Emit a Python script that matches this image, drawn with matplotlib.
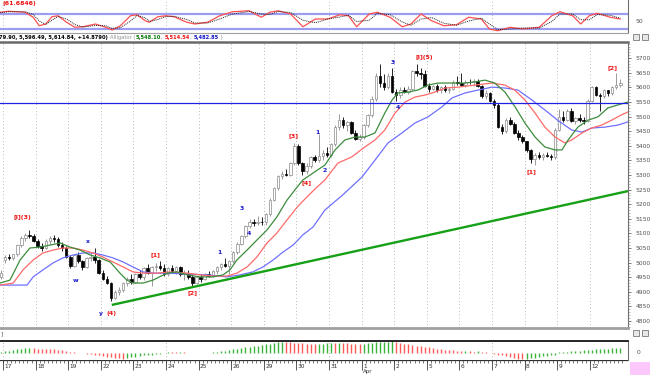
import numpy as np
import matplotlib
matplotlib.use("Agg")
import matplotlib.pyplot as plt
from matplotlib.patches import Rectangle
from matplotlib.lines import Line2D

# ---------------- data ----------------
dates = ["17", "18", "19", "22", "23", "24", "25", "26", "29", "30", "31",
         "1", "2", "5", "6", "7", "8", "9", "12"]
bars_per_day = 8

opens = [4950,
 5010,5018,5015,5028,5060,5085,5095,5092,
 5075,5058,5050,5075,5085,5082,5060,5050,
 5020,4988,5025,5005,4985,5015,5020,5008,
 4965,4945,4930,4880,4900,4905,4930,4945,
 4935,4960,4950,4980,4965,4985,4990,4980,
 4960,4980,4970,4985,4960,4965,4950,4930,
 4950,4945,4960,4955,4970,4985,4995,4990,
 5005,5035,5065,5090,5125,5140,5135,5140,
 5138,5165,5215,5255,5295,5305,5300,5340,
 5400,5340,5315,5330,5360,5350,5365,5375,
 5370,5405,5465,5490,5470,5480,5445,5425,
 5430,5470,5505,5560,5640,5615,5600,5640,
 5585,5575,5590,5585,5595,5655,5650,5645,
 5605,5595,5605,5590,5600,5590,5595,5620,
 5615,5610,5620,5618,5622,5605,5570,5580,
 5555,5540,5465,5450,5490,5475,5445,5430,
 5415,5385,5355,5368,5360,5370,5365,5362,
 5455,5500,5490,5520,5485,5495,5490,5485,
 5555,5600,5575,5570,5590,5580,5600,5610]
highs = [4975,
 5025,5030,5030,5065,5090,5100,5112,5098,
 5080,5068,5080,5090,5095,5088,5070,5058,
 5025,5030,5035,5010,5020,5035,5050,5012,
 4975,4955,4935,4905,4915,4935,4950,4960,
 4965,4975,4985,4995,4990,5000,5005,4995,
 4985,4992,4990,4990,4975,4975,4960,4955,
 4960,4965,4970,4975,4990,5000,5015,5010,
 5040,5070,5095,5130,5150,5148,5160,5155,
 5170,5220,5260,5300,5315,5320,5345,5410,
 5405,5345,5340,5365,5370,5440,5385,5395,
 5410,5470,5510,5500,5485,5485,5455,5440,
 5475,5510,5570,5650,5680,5645,5650,5665,
 5595,5600,5600,5605,5660,5680,5665,5660,
 5615,5610,5612,5605,5608,5600,5625,5640,
 5650,5625,5630,5628,5630,5610,5590,5585,
 5560,5548,5475,5495,5500,5480,5455,5438,
 5418,5390,5375,5380,5375,5378,5372,5460,
 5525,5520,5525,5528,5500,5510,5500,5560,
 5605,5605,5580,5595,5592,5605,5650,5630]
lows = [4945,
 5000,5008,5010,5022,5055,5075,5085,5070,
 5050,5040,5045,5065,5072,5055,5040,5015,
 4980,4985,5000,4975,4980,5005,5000,4960,
 4940,4925,4868,4875,4890,4900,4920,4925,
 4930,4945,4940,4960,4920,4970,4975,4955,
 4955,4965,4960,4955,4940,4945,4920,4925,
 4935,4940,4950,4950,4960,4975,4985,4960,
 5000,5030,5060,5085,5120,5125,5128,5130,
 5130,5160,5210,5250,5285,5295,5295,5335,
 5335,5300,5305,5325,5345,5345,5350,5360,
 5360,5400,5455,5460,5450,5440,5420,5415,
 5425,5465,5500,5555,5600,5590,5595,5580,
 5555,5565,5580,5578,5590,5640,5630,5600,
 5585,5590,5585,5580,5585,5580,5590,5610,
 5605,5600,5612,5605,5600,5565,5560,5550,
 5530,5460,5440,5445,5470,5440,5420,5410,
 5380,5340,5335,5355,5352,5360,5350,5355,
 5450,5480,5485,5480,5475,5480,5475,5480,
 5550,5570,5520,5565,5572,5575,5595,5600]
closes = [4965,
 5018,5015,5028,5060,5085,5095,5092,5075,
 5058,5050,5075,5085,5082,5060,5050,5020,
 4988,5025,5005,4985,5015,5020,5008,4965,
 4945,4930,4880,4900,4905,4930,4945,4935,
 4960,4950,4980,4965,4985,4990,4980,4960,
 4980,4970,4985,4960,4965,4950,4930,4950,
 4945,4960,4955,4970,4985,4995,4990,5005,
 5035,5065,5090,5125,5140,5135,5140,5138,
 5165,5215,5255,5295,5305,5300,5340,5400,
 5340,5315,5330,5360,5350,5365,5375,5370,
 5405,5465,5490,5470,5480,5445,5425,5430,
 5470,5505,5560,5640,5615,5600,5640,5585,
 5575,5590,5585,5595,5655,5650,5645,5605,
 5595,5605,5590,5600,5590,5595,5620,5615,
 5610,5620,5618,5622,5605,5570,5580,5555,
 5540,5465,5450,5490,5475,5445,5430,5415,
 5385,5355,5368,5360,5370,5365,5362,5455,
 5500,5490,5520,5485,5495,5490,5485,5555,
 5600,5575,5570,5590,5580,5600,5610,5615]

# Alligator lines: bar position, price
lips_x = [-1.2,1.2,3.7,6.1,8.6,11,13.5,16,18.4,20.9,23.3,25.8,28.2,29.9,31.4,33.9,36.3,39.8,42.2,44.7,
          47.8,51,53.5,55.2,56.9,59.4,61.8,64.3,66.7,69.2,71.7,73.1,75.6,78.5,81,83.4,85.9,88.3,90.8,93.2,
          95,96.4,98.9,101.3,103.8,106.3,109.7,112.9,115.3,117.8,120.2,122.7,125.2,127.6,130.1,132.5,135,
          136.7,138.2,140.6,143.1,145.5,148,150.4,152.9]
lips_y = [4930,4940,5009,5050,5053,5060,5067,5053,5043,5026,5016,5002,4964,4940,4930,4930,4940,4964,4968,4958,
          4951,4951,4958,4975,5009,5043,5077,5112,5156,5214,5259,5283,5307,5334,5386,5420,5430,5430,5444,5512,
          5557,5581,5584,5591,5608,5615,5615,5615,5619,5625,5615,5584,5533,5478,5430,5396,5386,5386,5420,5464,
          5488,5499,5530,5540,5550]
teeth_x = [-1.2,2,4.4,6.9,9.3,11.8,14.2,16.7,19.1,21.6,24,26.5,29,31.4,33.9,37.3,40.5,44.7,47.8,51,
           54.5,56.9,59.4,61.8,64.3,66.7,69.2,71.7,74.1,76.6,78.5,81.7,85.1,88.3,90.8,93.2,95.7,98.2,100.6,103.1,
           105.5,108,111.2,115.3,119.5,122.7,125.1,127.6,130.1,132.5,135,137.4,139.1,141.6,144,146.4,148.9,151.3,152.9]
teeth_y = [4923,4930,4975,5009,5033,5043,5050,5050,5043,5033,5019,5002,4985,4968,4964,4964,4968,4964,4958,4954,
           4954,4964,4985,5019,5067,5101,5146,5190,5225,5259,5283,5341,5362,5396,5420,5454,5512,5550,5567,5574,
           5584,5598,5601,5608,5615,5608,5591,5557,5512,5464,5430,5410,5420,5444,5461,5471,5488,5506,5516]
jaw_x = [-1.2,5.4,6.9,9.3,11.8,14.2,16.7,19.1,21.6,24,26.5,29,31.4,33.9,36.3,39.7,44.7,49.6,54.5,57.7,
         60.8,63.3,65.8,68.2,70.7,73.1,75.6,78.5,82.9,87.6,90.8,94,97.4,100.6,103.8,107.2,109.7,112.9,116.1,119.5,
         122.7,125.9,129.3,132.5,135.6,139.1,141.6,144,147.2,150.4,152.9]
jaw_y = [4923,4923,4951,4975,4999,5016,5026,5033,5033,5026,5016,5002,4985,4968,4964,4964,4961,4958,4951,4958,
         4968,4985,5009,5036,5060,5095,5122,5180,5232,5293,5351,5410,5444,5478,5499,5533,5564,5581,5591,5601,
         5598,5591,5557,5523,5488,5454,5447,5461,5464,5471,5482]

resistance = 5545
trend_x = [26.2, 152.9]
trend_y = [4855, 5245]

wave_red = ["[i](3)", "[1]", "[2]", "(4)", "[3]", "[4]", "[i](5)", "[1]", "[2]"]
wave_red_x = [4.2, 37.0, 46.1, 26.2, 70.7, 74.1, 102.8, 129.3, 149.0]
wave_red_y = [5153, 5026, 4896, 4827, 5434, 5273, 5704, 5310, 5667]
wave_blue = ["x", "w", "y", "1", "3", "4", "1", "2", "3", "4"]
wave_blue_x = [20.4, 17.2, 23.5, 52.5, 58.2, 59.9, 76.6, 78.5, 95.2, 96.4]
wave_blue_y = [5071, 4940, 4827, 5036, 5184, 5101, 5447, 5317, 5687, 5530]

# stochastic oscillator (top panel)
stoch_x = [-1.2,0.8,4.9,6.9,8.4,10,11.5,13,15.1,17.1,19.1,22.2,24.7,26.3,28.3,30.8,32.4,34.4,35.4,37.5,
           39.5,41.5,44.6,46.6,49.7,52.7,55.8,59.9,62.9,65,67,70.1,73.1,76.2,79.2,82.2,84.3,86.3,89.4,91.4,
           94.5,97.5,99.6,102.1,104.7,107.7,110.8,113.8,116.9,118.9,120.9,124,127.1,131.1,134.2,136.2,139.3,
           141.3,143.4,145.4,148.5,151]
stoch_k = [87,91,87,67,33,40,69,73,47,27,29,40,27,16,33,73,77,53,47,69,
           73,69,47,40,47,73,89,93,67,87,93,80,29,60,60,77,73,29,80,87,
           67,29,40,80,53,33,37,67,60,20,13,27,20,27,73,89,73,40,73,83,67,60]
stoch_d = [85,89,89,78,52,38,55,70,60,38,28,34,33,22,25,52,74,65,50,58,
           70,71,58,44,44,60,80,90,80,78,90,86,55,45,60,68,75,50,55,83,
           77,48,35,60,66,43,35,52,63,40,17,20,24,24,50,80,80,57,57,78,75,63]

# histogram oscillator (bottom panel), one value per bar
osc = [4,
 5,7,9,11,13,14,15,14,
 13,13,12,12,11,10,8,6,
 3,2,1,-1,-2,-4,-6,-8,
 -10,-12,-14,-16,-17,-18,-16,-14,
 -12,-10,-8,-6,-5,-3,-2,1,
 3,3,2,3,2,1,0.5,0.5,
 0,0,0.5,2,4,5,7,9,
 11,13,15,17,19,21,23,25,
 27,29,31,33,34,34,33,32,
 31,30,29,28,27,28,29,30,
 31,31,32,32,30,29,28,27,
 28,30,32,33,34,34.5,35,35.5,
 33,31,29,27,25,23,21,19,
 17,15,13,11,10,9,8,7,
 6,6.5,5,4,4.5,3,2,1,
 -2,-5,-8,-11,-14,-16,-18,-20,
 -19,-17,-15,-13,-11,-9,-7,-5,
 2,3,4,5,6,7,8,9,
 10,11,12,13,13.5,14,14.3,14.6]

header_main = "79.90, 5,596.49, 5,614.84, +14.8790)"
header_ind = "Alligator ("
header_vals = ["5,548.10", "5,514.54", "5,482.85"]
stoch_label = "(61.6846)"
price_ticks = list(range(4800, 5701, 50))

# ---------------- layout ----------------
W, H = 650, 375
fig = plt.figure(figsize=(6.5, 3.75), dpi=100)
fig.patch.set_facecolor("white")
plt.rcParams["font.family"] = ["DejaVu Sans"]

def axes_px(x0, y0, x1, y1):
    a = fig.add_axes([x0 / W, 1 - y1 / H, (x1 - x0) / W, (y1 - y0) / H])
    a.set_facecolor("none")
    return a

XMIN, XMAX = -1.24, 152.9
n = min(len(opens), len(highs), len(lows), len(closes))
pos = np.arange(n) - 1
day_bounds = np.arange(len(dates)) * bars_per_day - 0.5

def px_x(xpx):
    return xpx / W
def px_y(ypx):
    return 1 - ypx / H

# ---------------- main price panel ----------------
ax = axes_px(0, 42, 628, 328)
ax.set_xlim(XMIN, XMAX)
ax.set_ylim(4776, 5755.6)
for b in day_bounds:
    ax.axvline(b, color="#a0a0a0", lw=0.6, ls=(0, (1, 3)), zorder=0)

for x, o, h, l, c in zip(pos, opens[:n], highs[:n], lows[:n], closes[:n]):
    up = c >= o
    col = "#8a8a8a" if up else "black"
    ax.vlines(x, l, h, color=col, lw=0.6, zorder=3)
    bottom = min(o, c)
    height = max(abs(c - o), 2.0)
    ax.bar(x, height, 0.62, bottom, facecolor="white" if up else "black",
           edgecolor=col, lw=0.5, zorder=4)

ax.plot(jaw_x, jaw_y, color="#7070ff", lw=0.9, zorder=5)
ax.plot(teeth_x, teeth_y, color="#ff6a6a", lw=0.9, zorder=5)
ax.plot(lips_x, lips_y, color="#3c8c3c", lw=0.9, zorder=5)
ax.axhline(resistance, color="#2020e0", lw=0.9, zorder=6)
ax.plot(trend_x, trend_y, color="#16a016", lw=1.7, zorder=6, solid_capstyle="butt")

for s, x, y in zip(wave_red, wave_red_x, wave_red_y):
    ax.text(x, y, s, color="#ee1111", fontsize=4.6, fontweight="bold",
            ha="center", va="center", zorder=7)
for s, x, y in zip(wave_blue, wave_blue_x, wave_blue_y):
    ax.text(x, y, s, color="#1515c8", fontsize=4.4, fontweight="bold",
            ha="center", va="center", zorder=7)

ax.yaxis.tick_right()
ax.set_yticks(price_ticks)
ax.set_yticklabels([str(t) for t in price_ticks])
ax.set_yticks(np.arange(4780, 5751, 10), minor=True)
ax.tick_params(axis="y", which="major", direction="out", length=2.5, width=0.6,
               color="#606060", labelsize=4.3, labelcolor="#505050", pad=3)
ax.tick_params(axis="y", which="minor", direction="out", length=1.2, width=0.4, color="#808080")
ax.set_xticks([])
ax.spines["left"].set_visible(False)
ax.spines["right"].set_color("#707070")
ax.spines["right"].set_linewidth(0.8)
ax.spines["top"].set_color("#6a6a6a")
ax.spines["top"].set_linewidth(1.8)
ax.spines["bottom"].set_color("#a0a0a0")
ax.spines["bottom"].set_linewidth(2.0)

# ---------------- top stochastic panel ----------------
axt = axes_px(0, 0, 628, 32)
axt.set_xlim(XMIN, XMAX)
axt.set_ylim(8, 136)
for b in day_bounds[::5]:
    axt.axvline(b, color="#a0a0a0", lw=0.6, ls=(0, (1, 3)), zorder=0)
axt.axhline(80, color="#9c9cf0", lw=1.6, zorder=1)
axt.axhline(20, color="#9c9cf0", lw=1.6, zorder=1)
axt.plot(stoch_x, stoch_d, color="#202020", lw=0.7, ls=(0, (1, 1)), zorder=3)
axt.plot(stoch_x, stoch_k, color="#ff5050", lw=0.9, zorder=2)
axt.set_xticks([]); axt.set_yticks([])
for side in ["left", "top", "bottom"]:
    axt.spines[side].set_visible(False)
axt.spines["right"].set_color("#707070")
axt.spines["right"].set_linewidth(0.8)
axt.text(0.004, 0.97, stoch_label, transform=axt.transAxes, color="#ee1111",
         fontsize=4.4, fontweight="bold", va="top", ha="left")
fig.text(px_x(636), px_y(21.5), "50", fontsize=4.3, color="#505050", va="center")
fig.add_artist(Line2D([0, 628 / W], [px_y(32.5)] * 2, color="#a0a0a0", lw=0.8))

# header strip: segments laid out one after another
renderer = fig.canvas.get_renderer()
segments = [(header_main + " ", "black", "bold"), (header_ind, "#909090", "normal"),
            (header_vals[0], "#0a7a0a", "bold"), (", ", "#909090", "normal"),
            (header_vals[1], "#ee1111", "bold"), (", ", "#909090", "normal"),
            (header_vals[2], "#1515c8", "bold"), (" )", "#909090", "normal")]
xcur = -1.0
for s, c, wgt in segments:
    t = fig.text(px_x(xcur), px_y(37), s, fontsize=3.7, fontweight=wgt, color=c, va="center")
    bb = t.get_window_extent(renderer)
    xcur += bb.width + 0.3

def icons(ycen):
    for x0 in (633, 642):
        fig.add_artist(Rectangle((px_x(x0), px_y(ycen + 3)), 6 / W, 6 / H,
                                 facecolor="#e8e8e8", edgecolor="#606060", lw=0.5))
icons(37)
icons(333)

# ---------------- bottom histogram panel ----------------
fig.text(px_x(1), px_y(333.5), "]", fontsize=4, color="#404040", va="center")
axh = axes_px(0, 341, 628, 360)
axh.set_xlim(XMIN, XMAX)
axh.set_ylim(-22, 37)
for b in day_bounds[::5]:
    axh.axvline(b, color="#a0a0a0", lw=0.6, ls=(0, (1, 3)), zorder=0)
osc_a = np.array(osc[:n], dtype=float)
prev = np.concatenate([[osc_a[0] - 1], osc_a[:-1]])
cols = np.where(osc_a > prev, "#3cb43c", "#ff5a5a")
axh.vlines(pos, 0, osc_a, colors=cols, lw=1.0)
axh.set_xticks([]); axh.set_yticks([])
for side in ["left", "bottom"]:
    axh.spines[side].set_visible(False)
axh.spines["top"].set_color("black")
axh.spines["top"].set_linewidth(1.2)
axh.spines["right"].set_color("#707070")
axh.spines["right"].set_linewidth(0.8)
fig.text(px_x(637), px_y(352), "0", fontsize=4.3, color="#505050", va="center")

# ---------------- date axis ----------------
axd = axes_px(0, 360, 628, 375)
axd.set_xlim(XMIN, XMAX)
axd.set_ylim(0, 1)
axd.axis("off")
axd.axhline(0.97, color="#303030", lw=0.9)
minor_b = np.arange(-1, n) - 0.5
axd.vlines(minor_b, 0.78, 0.97, color="#404040", lw=0.5)
axd.vlines(day_bounds, 0.35, 0.97, color="#404040", lw=0.6)
for b, lab in zip(day_bounds, dates):
    axd.text(b + 0.35, 0.56, lab, fontsize=4.2, color="#303030", ha="left", va="center")
axd.text(day_bounds[dates.index("1")] + 0.35, 0.2, "Apr", fontsize=4.0, color="#303030",
         ha="left", va="center")
fig.add_artist(Rectangle((px_x(630), px_y(375)), 20 / W, 13 / H,
                         facecolor="#fcc8fc", edgecolor="none"))

fig.savefig("out.png", dpi=100, facecolor="white")
